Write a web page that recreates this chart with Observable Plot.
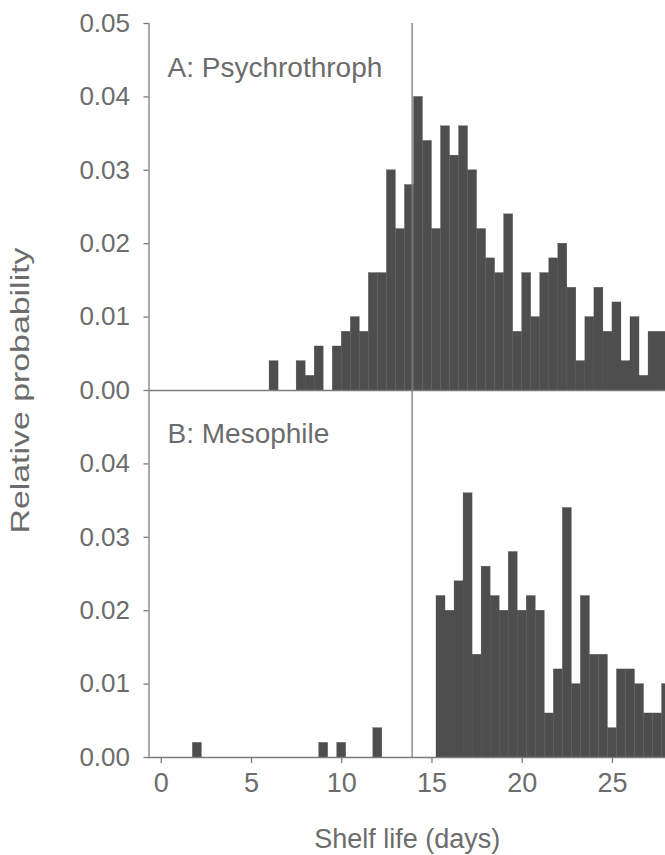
<!DOCTYPE html>
<html><head><meta charset="utf-8">
<script src="https://cdn.jsdelivr.net/npm/d3@7"></script>
<script src="https://cdn.jsdelivr.net/npm/@observablehq/plot@0.6"></script>
<style>
html,body{margin:0;padding:0;background:#fff;}
#chart{width:665px;height:855px;}
</style></head><body><div id="chart"></div>
<script>
// Panel A: Psychrotroph — histogram bins (lower edge, days) and relative probability
const psychroBinStart = [6.0, 6.5, 7.0, 7.5, 8.0, 8.5, 9.0, 9.5, 10.0, 10.5, 11.0, 11.5, 12.0, 12.5, 13.0, 13.5,
  14.0, 14.5, 15.0, 15.5, 16.0, 16.5, 17.0, 17.5, 18.0, 18.5, 19.0, 19.5, 20.0, 20.5, 21.0, 21.5,
  22.0, 22.5, 23.0, 23.5, 24.0, 24.5, 25.0, 25.5, 26.0, 26.5, 27.0, 27.5];
const psychroValue = [0.004, 0, 0, 0.004, 0.002, 0.006, 0, 0.006, 0.008, 0.010, 0.008, 0.016, 0.016, 0.030, 0.022, 0.028,
  0.040, 0.034, 0.022, 0.036, 0.032, 0.036, 0.030, 0.022, 0.018, 0.016, 0.024, 0.008, 0.016, 0.010, 0.016, 0.018,
  0.020, 0.014, 0.004, 0.010, 0.014, 0.008, 0.012, 0.004, 0.010, 0.002, 0.008, 0.008];

// Panel B: Mesophile — histogram bins (centre, days) and relative probability
const mesoBinCenter = [2.0, 9.0, 10.0, 12.0, 15.5, 16.0, 16.5, 17.0, 17.5, 18.0, 18.5, 19.0, 19.5, 20.0, 20.5, 21.0,
  21.5, 22.0, 22.5, 23.0, 23.5, 24.0, 24.5, 25.0, 25.5, 26.0, 26.5, 27.0, 27.5, 28.0];
const mesoValue = [0.002, 0.002, 0.002, 0.004, 0.022, 0.020, 0.024, 0.036, 0.014, 0.026, 0.022, 0.020, 0.028, 0.020, 0.022, 0.020,
  0.006, 0.012, 0.034, 0.010, 0.022, 0.014, 0.014, 0.004, 0.012, 0.012, 0.010, 0.006, 0.006, 0.010];

const binWidth = 0.5;
const limitDays = 13.9;
const xTicks = [0, 5, 10, 15, 20, 25];
const yTicks = [0, 0.01, 0.02, 0.03, 0.04, 0.05];
const panelLabels = ["A: Psychrothroph", "B: Mesophile"];
const xLabel = "Shelf life (days)";
const yLabel = "Relative probability";

// Two stacked panels share one y scale: B occupies [0, panelMax], A occupies [panelMax, 2*panelMax]
const panelMax = 0.05;
const psychro = psychroBinStart.map((s, i) => ({x1: s, x2: s + binWidth, y1: panelMax, y2: panelMax + psychroValue[i]}));
const meso = mesoBinCenter.map((c, i) => ({x1: c - binWidth / 2, x2: c + binWidth / 2, y1: 0, y2: mesoValue[i]}));
const allYTicks = [...yTicks, ...yTicks.slice(1).map(t => t + panelMax)];
const yFmt = t => (t >= panelMax - 1e-9 ? t - panelMax : t).toFixed(2);

const barColor = "#4e4e4e";
const lineColor = "#7c7c7c";
const textColor = "#6c6c6c";
const font = "'Liberation Sans', Arial, sans-serif";

const chart = Plot.plot({
  width: 665, height: 855,
  marginLeft: 148.5, marginRight: 0, marginTop: 23, marginBottom: 98,
  style: {fontFamily: font, fontSize: "26px", color: textColor, background: "#fff", overflow: "visible"},
  x: {domain: [-0.68, 27.94]},
  y: {domain: [0, 2 * panelMax]},
  marks: [
    Plot.rect(psychro, {x1: "x1", x2: "x2", y1: "y1", y2: "y2", fill: barColor, stroke: barColor, strokeWidth: 0.3, clip: true}),
    Plot.rect(meso, {x1: "x1", x2: "x2", y1: "y1", y2: "y2", fill: barColor, stroke: barColor, strokeWidth: 0.3, clip: true}),
    Plot.ruleY([0, panelMax], {stroke: lineColor, strokeWidth: 1.3}),
    Plot.ruleX([limitDays], {stroke: lineColor, strokeWidth: 1.3}),
    Plot.frame({anchor: "left", stroke: lineColor, strokeWidth: 1.3}),
    Plot.axisY(allYTicks, {tickSize: 5, tickPadding: 14, tickFormat: yFmt, stroke: lineColor, strokeWidth: 1.3,
      label: yLabel, labelAnchor: "center", labelOffset: 138, labelArrow: "none", fontSize: 26}),
    Plot.axisX(xTicks, {tickSize: 6, tickPadding: 9, stroke: lineColor, strokeWidth: 1.3,
      label: xLabel, labelAnchor: "center", labelOffset: 90, labelArrow: "none", fontSize: 27}),
    Plot.text([panelLabels[0]], {frameAnchor: "top-left", dx: 18.5, dy: 53, lineAnchor: "bottom", textAnchor: "start", fontSize: 28, fill: textColor}),
    Plot.text([panelLabels[1]], {frameAnchor: "left", dx: 18.5, dy: 52, lineAnchor: "bottom", textAnchor: "start", fontSize: 28, fill: textColor})
  ]
});
// the reference's vertical axis title is drawn stretched along its length
chart.querySelectorAll('g[aria-label="y-axis label"] text').forEach(t => {
  t.setAttribute("textLength", 286);
  t.setAttribute("lengthAdjust", "spacingAndGlyphs");
});
document.getElementById("chart").appendChild(chart);
</script>
</body></html>
